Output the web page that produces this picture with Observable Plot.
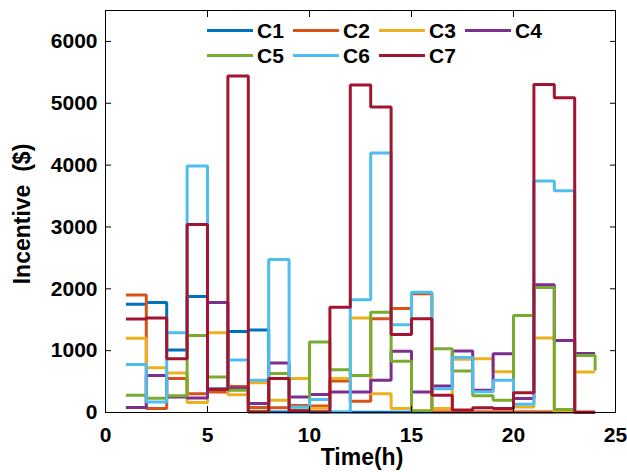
<!DOCTYPE html>
<html>
<head>
<meta charset="utf-8">
<script src="https://cdn.jsdelivr.net/npm/d3@7"></script>
<script src="https://cdn.jsdelivr.net/npm/@observablehq/plot@0.6"></script>
<style>
  html, body { margin: 0; padding: 0; background: #fff; }
  #wrap { position: relative; width: 627px; height: 472px; font-family: "Liberation Sans", Arial, sans-serif; font-weight: bold; color: #000; }
  #wrap svg { display: block; }
  .lab { position: absolute; font-size: 23px; white-space: pre; line-height: 1; }
  .leg { position: absolute; font-size: 21px; line-height: 1; white-space: nowrap; }
  .leg .sw { position: absolute; left: 0; top: 50%; width: 46px; height: 0; border-top: 3px solid; margin-top: -1.5px; }
  .leg .tx { position: absolute; left: 50px; top: 50%; transform: translateY(-50%); }
</style>
</head>
<body>
<div id="wrap"></div>
<script>
// ---- data ----
const hours = [1, 2, 3, 4, 5, 6, 7, 8, 9, 10, 11, 12, 13, 14, 15, 16, 17, 18, 19, 20, 21, 22, 23, 24];
const seriesNames = ["C1", "C2", "C3", "C4", "C5", "C6", "C7"];
const C1 = [1750, 1780, 1010, 1875, 370, 1310, 1335, 10, 10, 10, 5, 5, 5, 5, 5, 5, 5, 5, 5, 5, 5, 5, 5, 5];
const C2 = [1900, 65, 550, 305, 330, 420, 80, 75, 115, 105, 510, 180, 1515, 1680, 1920, 10, 10, 10, 10, 10, 10, 10, 10, 10];
const C3 = [1200, 725, 640, 160, 1290, 285, 480, 200, 550, 70, 550, 1530, 305, 65, 30, 65, 860, 870, 660, 90, 1205, 10, 655, 655];
const C4 = [80, 600, 250, 235, 1780, 395, 145, 800, 250, 290, 330, 330, 520, 990, 330, 430, 995, 360, 950, 225, 2065, 1165, 955, 955];
const C5 = [280, 230, 270, 1245, 575, 360, 20, 630, 40, 1140, 690, 600, 1620, 830, 25, 1030, 670, 270, 200, 1570, 2020, 50, 920, 680];
const C6 = [775, 170, 1290, 3985, 390, 850, 520, 2475, 90, 210, 10, 1825, 4195, 1420, 1945, 385, 890, 335, 520, 135, 3745, 3585, 0, 0];
const C7 = [1510, 1530, 870, 3040, 375, 5440, 10, 550, 30, 10, 1700, 5295, 4940, 1260, 1515, 280, 40, 75, 65, 320, 5305, 5090, 0, 0];
const xTicks = [0, 5, 10, 15, 20, 25];
const yTicks = [0, 1000, 2000, 3000, 4000, 5000, 6000];
const xLabel = "Time(h)";
const yLabel = "Incentive  ($)";

// ---- styles ----
const seriesColors = ["#0072BD", "#D95319", "#EDB120", "#7E2F8E", "#77AC30", "#4DBEEE", "#A2142F"];

const seriesValues = [C1, C2, C3, C4, C5, C6, C7];
const rows = seriesNames.flatMap((name, i) =>
  hours.map((h, j) => ({series: name, hour: h, value: seriesValues[i][j]}))
);

const W = 627, H = 472;
const mL = 105, mR = 12, mT = 10, mB = 60;
const tick = 6;

const chart = Plot.plot({
  width: W, height: H,
  marginLeft: mL, marginRight: mR, marginTop: mT, marginBottom: mB,
  style: {fontFamily: '"Liberation Sans", Arial, sans-serif', fontWeight: "bold", fontSize: "21px", color: "#000", background: "#fff", overflow: "visible"},
  x: {domain: [0, 25]},
  y: {domain: [0, 6500]},
  color: {domain: seriesNames, range: seriesColors},
  marks: [
    ...seriesNames.map(name => Plot.line(rows.filter(r => r.series === name), {
      x: "hour", y: "value", stroke: "series", strokeWidth: 3, curve: "step-after",
      strokeLinejoin: "miter", strokeLinecap: "butt"
    })),
    Plot.frame({stroke: "#000", strokeWidth: 1}),
    Plot.axisX({anchor: "bottom", ticks: xTicks, tickSize: tick, dy: -tick, tickFormat: () => "", label: null}),
    Plot.axisX({anchor: "top", ticks: xTicks, tickSize: tick, dy: tick, tickFormat: () => "", label: null}),
    Plot.axisY({anchor: "left", ticks: yTicks, tickSize: tick, dx: tick, tickFormat: () => "", label: null}),
    Plot.axisY({anchor: "right", ticks: yTicks, tickSize: tick, dx: -tick, tickFormat: () => "", label: null}),
    Plot.axisX({anchor: "bottom", ticks: xTicks, tickSize: 0, tickPadding: 15, tickFormat: d => String(d), label: null, fontSize: 21}),
    Plot.axisY({anchor: "left", ticks: yTicks, tickSize: 0, tickPadding: 8, tickFormat: d => String(d), label: null, fontSize: 21})
  ]
});

const wrap = document.getElementById("wrap");
wrap.appendChild(chart);

// axis labels
const xl = document.createElement("div");
xl.className = "lab";
xl.textContent = xLabel;
xl.style.left = ((mL + W - mR) / 2 + 2) + "px";
xl.style.top = "457px";
xl.style.transform = "translate(-50%, -50%)";
wrap.appendChild(xl);

const yl = document.createElement("div");
yl.className = "lab";
yl.textContent = yLabel;
yl.style.left = "22px";
yl.style.top = ((mT + H - mB) / 2 + 3) + "px";
yl.style.transform = "translate(-50%, -50%) rotate(-90deg)";
wrap.appendChild(yl);

// legend (2 rows x 4 columns, inside top)
const legLeft = 207, legColW = 86, legRowTop = [30, 55];
seriesNames.forEach((name, i) => {
  const col = i % 4, row = Math.floor(i / 4);
  const d = document.createElement("div");
  d.className = "leg";
  d.style.left = (legLeft + col * legColW) + "px";
  d.style.top = (legRowTop[row] - 12) + "px";
  d.style.height = "24px";
  d.style.width = "80px";
  const sw = document.createElement("span");
  sw.className = "sw";
  sw.style.borderTopColor = seriesColors[i];
  const tx = document.createElement("span");
  tx.className = "tx";
  tx.textContent = name;
  d.appendChild(sw); d.appendChild(tx);
  wrap.appendChild(d);
});
</script>
</body>
</html>
